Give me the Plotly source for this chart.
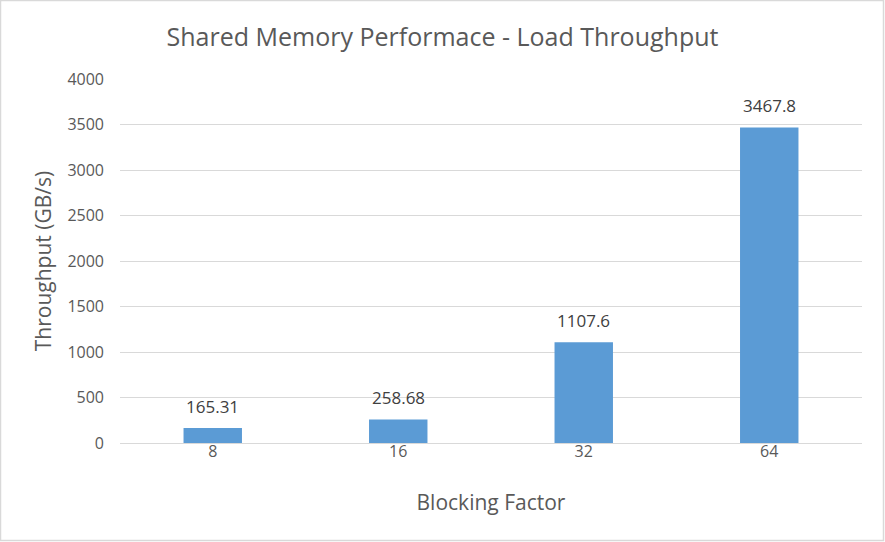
import plotly.graph_objects as go

categories = ["8", "16", "32", "64"]
values = [165.31, 258.68, 1107.6, 3467.8]
labels = ["165.31", "258.68", "1107.6", "3467.8"]

W, H = 885, 542
L, R, T, B = 120, 23, 79, 99
pw, ph = W - L - R, H - T - B
FONT = "Open Sans"
GREY = "#595959"

fig = go.Figure(go.Bar(
    x=categories, y=values,
    marker=dict(color="#5B9BD5", line=dict(width=0)),
    width=0.315,
    hoverinfo="x+y",
))

for i, (v, t) in enumerate(zip(values, labels)):
    fig.add_annotation(x=i, y=v, xref="x", yref="y", text=t, showarrow=False,
                       yanchor="bottom", yshift=8,
                       font=dict(size=17, color="#404040", family=FONT))

fig.update_layout(
    width=W, height=H,
    margin=dict(l=L, r=R, t=T, b=B, autoexpand=False),
    paper_bgcolor="white", plot_bgcolor="white",
    font=dict(family=FONT, color=GREY),
    title=dict(text="Shared Memory Performace - Load Throughput",
               x=0.5, xanchor="center", y=1 - 37/H, yanchor="middle",
               font=dict(size=25, color=GREY, family=FONT)),
    showlegend=False,
    xaxis=dict(type="category", range=[-0.5, len(categories) - 0.5], showgrid=False,
               showline=True, linecolor="#D9D9D9", linewidth=1,
               ticks="", tickfont=dict(size=16, color=GREY), ticklabelstandoff=-6,
               title=dict(text="Blocking Factor", font=dict(size=21, color=GREY), standoff=34)),
    yaxis=dict(range=[0, 4000], dtick=500, showgrid=True, gridcolor="#D9D9D9", gridwidth=1,
               zeroline=False, showline=False, ticks="", tickfont=dict(size=16, color=GREY),
               ticklabelstandoff=15,
               title=dict(text="Throughput (GB/s)", font=dict(size=21, color=GREY), standoff=10)),
    shapes=[dict(type="rect", xref="paper", yref="paper",
                 x0=-(L - 0.5) / pw, x1=1 + (R - 1.5) / pw,
                 y0=-(B - 1.5) / ph, y1=1 + (T - 0.5) / ph,
                 line=dict(color="#D9D9D9", width=1.5), fillcolor="rgba(0,0,0,0)", layer="below")],
)

fig.write_html("out.html")
